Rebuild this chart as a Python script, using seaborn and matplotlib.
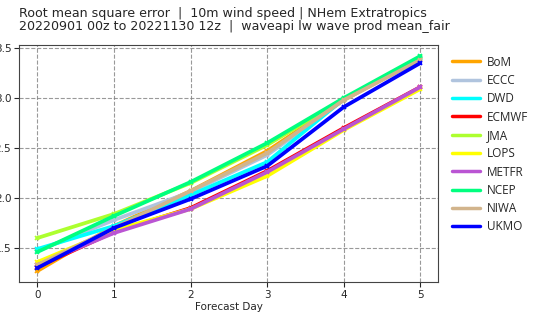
import pandas as pd
import seaborn as sns
import matplotlib.pyplot as plt

# RMSE of 10m wind speed per centre
days = [0, 1, 2, 3, 4, 5]
models = ['BoM', 'ECCC', 'DWD', 'ECMWF', 'JMA', 'LOPS', 'METFR', 'NCEP', 'NIWA', 'UKMO']
rmse = {
    'BoM':   [1.27, 1.72, 2.07, 2.47, 2.98, 3.39],
    'ECCC':  [1.47, 1.78, 2.06, 2.43, 2.98, 3.40],
    'DWD':   [1.49, 1.72, 2.03, 2.36, 2.99, 3.40],
    'ECMWF': [1.31, 1.66, 1.90, 2.27, 2.70, 3.11],
    'JMA':   [1.60, 1.84, 2.15, 2.53, 2.99, 3.41],
    'LOPS':  [1.36, 1.68, 1.89, 2.22, 2.68, 3.09],
    'METFR': [1.33, 1.65, 1.89, 2.26, 2.69, 3.11],
    'NCEP':  [1.46, 1.82, 2.16, 2.55, 3.00, 3.42],
    'NIWA':  [1.33, 1.70, 2.07, 2.45, 2.98, 3.38],
    'UKMO':  [1.30, 1.70, 1.99, 2.32, 2.91, 3.35],
}
colours = ['orange', 'lightsteelblue', 'cyan', 'red', 'greenyellow', 'yellow',
           'mediumorchid', 'springgreen', 'tan', 'blue']

rows = []
for m in models:
    for d, v in zip(days, rmse[m]):
        rows.append({'Forecast Day': d, 'RMSE': v, 'Model': m})
df = pd.DataFrame(rows)

sns.set_style('ticks')
fig = plt.figure(figsize=(5.37, 3.16), dpi=100)
ax = fig.add_axes([19 / 537, 1 - 282 / 316, 419 / 537, 237 / 316])

sns.lineplot(data=df, x='Forecast Day', y='RMSE', hue='Model', hue_order=models,
             palette=colours, linewidth=2.7, marker='x', markersize=3,
             markeredgewidth=1.2, ax=ax)
for ln in ax.get_lines():
    ln.set_markeredgecolor(ln.get_color())

ax.set_xlim(-0.24, 5.23)
ax.set_ylim(1.16, 3.53)
ax.set_xticks(days)
ax.set_yticks([1.5, 2.0, 2.5, 3.0, 3.5])
ax.set_yticklabels(['1.5', '2.0', '2.5', '3.0', '3.5'])
ax.tick_params(labelsize=7.5, pad=2)
ax.set_xlabel('Forecast Day', fontsize=7.5, labelpad=2)
ax.set_ylabel('')
ax.grid(True, color='gray', linestyle='--', linewidth=0.8, alpha=0.8)
for s in ax.spines.values():
    s.set_color('#444444')

ax.set_title('Root mean square error  |  10m wind speed | NHem Extratropics\n'
             '20220901 00z to 20221130 12z  |  waveapi lw wave prod mean_fair',
             loc='left', fontsize=9.1, linespacing=1.0, pad=11)

leg = ax.legend(loc='upper left', bbox_to_anchor=(1.008, 1.0), frameon=False,
                prop={'family': 'Open Sans', 'size': 8.5}, labelspacing=0.45,
                handlelength=2.37, handletextpad=0.6)
for h in leg.get_lines():
    h.set_marker('')
    h.set_linewidth(2.5)

fig.savefig('out.png', dpi=100)
